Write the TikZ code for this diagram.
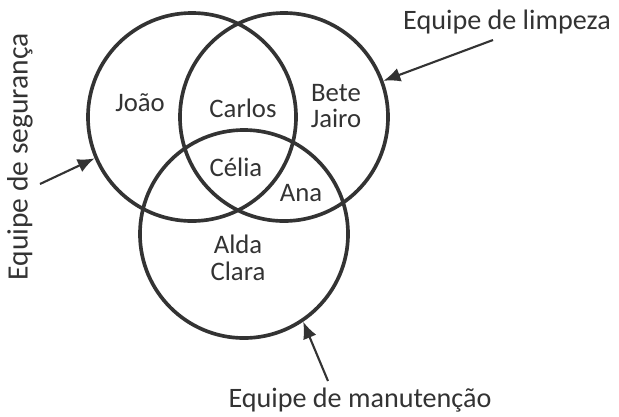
\documentclass[tikz,border=0pt]{standalone}
\usepackage{fontspec}
\setmainfont{Carlito}
\usetikzlibrary{arrows.meta}
\definecolor{inkgray}{HTML}{333333}
\tikzset{
  team/.style={circle,draw=inkgray,line width=2.6pt,minimum size=5.2cm,inner sep=0pt},
  member/.style={text=inkgray,font=\fontsize{19}{19}\selectfont,align=center,inner sep=0pt},
  teamlabel/.style={text=inkgray,font=\fontsize{20}{24}\selectfont,inner sep=0pt},
  pointer/.style={draw=inkgray,line width=1.5pt,-{Latex[length=12pt,width=10pt]}}
}
\begin{document}
\begin{tikzpicture}[x=0.025cm,y=-0.025cm]
  \useasboundingbox (0,0) rectangle (619,416);
  % the three teams
  \node[team] (seg) at (192,117) {};
  \node[team] (limp) at (284,117) {};
  \node[team] (man) at (244,234) {};
  % members
  \node[member] (joao) at (140,103) {João};
  \node[member] (carlos) at (243,108) {Carlos};
  \node[member] (bete) at (336,106) {Bete\\Jairo};
  \node[member] (celia) at (236,167) {Célia};
  \node[member] (ana) at (301,193) {Ana};
  \node[member] (alda) at (238,258) {Alda\\Clara};
  % team names
  \node[teamlabel] (limplbl) at (507,22) {Equipe de limpeza};
  \node[teamlabel,rotate=90,font=\fontsize{21}{24}\selectfont] (seglbl) at (20,157) {Equipe de segurança};
  \node[teamlabel] (manlbl) at (360,400) {Equipe de manutenção};
  \coordinate (limptail) at (493,40);
  \coordinate (segtail) at (40,184);
  \coordinate (mantail) at (328,381);
  \draw[pointer] (limptail) -- (limp.20);
  \draw[pointer] (segtail) -- (seg.203);
  \draw[pointer] (mantail) -- (man.-56);
\end{tikzpicture}
\end{document}
